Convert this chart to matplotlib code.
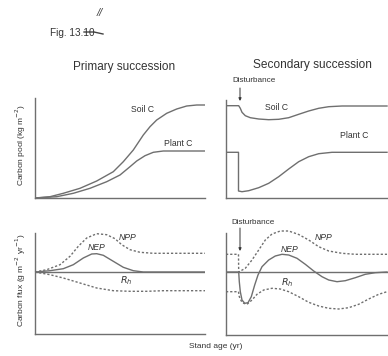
import matplotlib
matplotlib.use("Agg")
import matplotlib.pyplot as plt

plt.rcParams['font.family'] = ['Liberation Sans', 'DejaVu Sans']

# ---------------- data (arbitrary units) ----------------
# Primary succession: carbon pools
prim_soil_x = [0, 15, 28.3, 45, 61.7, 78.3, 88.3, 98.3, 108.3, 115, 121.7, 131.7,
               141.7, 151.7, 161.7, 170]
prim_soil_y = [0, 1.3, 4.7, 9.7, 17, 26.3, 36.3, 48, 63, 71.3, 78, 84.7, 89, 92,
               93, 93]
prim_plant_x = [0, 21.7, 38.3, 55, 71.7, 85, 95, 101.7, 110, 118.3, 128.3, 170]
prim_plant_y = [0, 1.3, 4.7, 9.7, 16.3, 23, 31.3, 37, 42.3, 45.7, 47, 47]

# Secondary succession: carbon pools
sec_soil_x = [0, 12.7, 14.3, 16, 19.3, 24.3, 32.7, 42.7, 52.7, 62.7, 72.7, 82.7,
              92.7, 102.7, 116, 161]
sec_soil_y = [92.3, 92.3, 89.7, 85.7, 82.3, 80.3, 79, 78.3, 78.7, 80.3, 83.7, 87,
              89.7, 91.3, 92, 92]
sec_plant_x = [0, 12.5, 12.5, 16, 22.7, 32.7, 42.7, 52.7, 62.7, 72.7, 82.7, 92.7,
               106, 161]
sec_plant_y = [45.7, 45.7, 7, 6.3, 7.3, 10.3, 14.7, 21.3, 29, 36.3, 41.3, 44.3,
               45.7, 45.7]

# Primary succession: carbon fluxes
prim_npp_x = [0, 11.7, 25, 35, 43.3, 51.7, 61.7, 71.7, 80, 86.7, 95, 105, 118.3, 170]
prim_npp_y = [0, 2.3, 7.3, 15.7, 25.7, 34, 38.3, 37.3, 33.3, 27.3, 22.3, 19.7,
              18.7, 18.7]
prim_nep_x = [0, 15, 28.3, 38.3, 48.3, 56.7, 61.7, 68.3, 78.3, 88.3, 98.3, 108.3, 170]
prim_nep_y = [0, 1.3, 3.3, 7.3, 14, 18, 18.3, 16.7, 10.7, 4.7, 1.3, 0, 0]
prim_rh_x = [0, 15, 28.3, 45, 61.7, 78.3, 95, 111.7, 128.3, 170]
prim_rh_y = [0, -2.7, -6, -11, -16, -18.7, -19.3, -19.3, -18.7, -18.7]

# Secondary succession: carbon fluxes
sec_npp_x = [0, 12.5, 12.7, 19.3, 26, 32.7, 39.3, 46, 54.3, 62.7, 72.7, 82.7,
             92.7, 102.7, 116, 129.3, 161]
sec_npp_y = [17.7, 17.7, 0, 3.7, 12, 22, 32, 38, 41, 41, 37.5, 32, 25.3, 21,
             18.7, 17.7, 17.7]
sec_nep_x = [0, 12.7, 13.3, 14.3, 16, 18.7, 22, 25.3, 28.7, 32, 36, 42.7, 49.3,
             56, 62.7, 71, 79.3, 87.7, 96, 102.7, 111, 119.3, 129.3, 139.3, 149.3, 161]
sec_nep_y = [0, 0, -9.7, -19.7, -28, -31.3, -30.7, -24.7, -13, -3, 5.3, 12, 16,
             17.7, 17, 13.7, 7.7, 1, -4.7, -8, -9.7, -8.7, -5.7, -2.3, -0.7, 0]
sec_rh_x = [0, 12.5, 13.3, 15.3, 17.7, 21, 26, 31, 37.7, 46, 54.3, 62.7, 72.7,
            82.7, 92.7, 102.7, 112.7, 122.7, 132.7, 142.7, 152.7, 161]
sec_rh_y = [-19.7, -19.7, -24.7, -29, -31.3, -32.3, -28, -22.3, -18, -16.3, -17,
            -19.7, -24.7, -30.3, -34, -36.3, -37, -35.7, -32.3, -27, -22.3, -19.7]

disturbance_x = 14

# ---------------- figure ----------------
W, H = 388, 356
fig = plt.figure(figsize=(W / 100, H / 100), dpi=100)
fig.patch.set_facecolor('white')

LC = '#6f6f6f'
TC = '#333333'


def px_axes(x0, y0, x1, y1):
    return fig.add_axes([x0 / W, 1 - y1 / H, (x1 - x0) / W, (y1 - y0) / H])


def style(ax, xlim, ylim):
    ax.set_xlim(*xlim)
    ax.set_ylim(*ylim)
    for s in ('top', 'right'):
        ax.spines[s].set_visible(False)
    for s in ('left', 'bottom'):
        ax.spines[s].set_color(LC)
        ax.spines[s].set_linewidth(1.0)
    ax.set_xticks([])
    ax.set_yticks([])
    ax.patch.set_alpha(0)


ax1 = px_axes(35, 98, 205, 198)
ax2 = px_axes(226, 100, 388, 198)
ax3 = px_axes(35, 233, 205, 334)
ax4 = px_axes(226, 233, 388, 335)

style(ax1, (0, 170), (0, 100))
style(ax2, (0, 162), (0, 98))
style(ax3, (0, 170), (-62, 39))
style(ax4, (0, 162), (-63, 39))

lw = 1.0
dot = (0, (1.6, 1.4))

# pools
ax1.plot(prim_soil_x, prim_soil_y, color=LC, lw=lw)
ax1.plot(prim_plant_x, prim_plant_y, color=LC, lw=lw)
ax2.plot(sec_soil_x, sec_soil_y, color=LC, lw=lw)
ax2.plot(sec_plant_x, sec_plant_y, color=LC, lw=lw)

# fluxes
ax3.axhline(0, color=LC, lw=lw)
ax3.plot(prim_npp_x, prim_npp_y, color=LC, lw=lw, ls=dot, clip_on=False)
ax3.plot(prim_nep_x, prim_nep_y, color=LC, lw=lw)
ax3.plot(prim_rh_x, prim_rh_y, color=LC, lw=lw, ls=dot)

ax4.axhline(0, color=LC, lw=lw)
ax4.plot(sec_npp_x, sec_npp_y, color=LC, lw=lw, ls=dot, clip_on=False)
ax4.plot(sec_nep_x, sec_nep_y, color=LC, lw=lw)
ax4.plot(sec_rh_x, sec_rh_y, color=LC, lw=lw, ls=dot)

# labels in panels
lab = dict(color=TC, fontsize=6.2, ha='center', va='center')
ax1.text(107.5, 88, 'Soil C', **lab)
ax1.text(143, 55, 'Plant C', **lab)
ax2.text(50.5, 90, 'Soil C', **lab)
ax2.text(128.5, 63, 'Plant C', **lab)

ilab = dict(color=TC, fontsize=6.2, ha='center', va='center', style='italic')
ax3.text(92.5, 34, 'NPP', **ilab)
ax3.text(62, 24, 'NEP', **ilab)
ax3.text(91, -9, r'$R_h$', color=TC, fontsize=6.8, ha='center', va='center')
ax4.text(98, 34, 'NPP', **ilab)
ax4.text(64, 22, 'NEP', **ilab)
ax4.text(61, -11, r'$R_h$', color=TC, fontsize=6.8, ha='center', va='center')

# disturbance arrows
ax2.annotate('', xy=(disturbance_x, 97), xytext=(disturbance_x, 110),
             xycoords='data', annotation_clip=False,
             arrowprops=dict(arrowstyle='-|>', color=TC, lw=0.7,
                             mutation_scale=4, shrinkA=0, shrinkB=0))
ax2.text(28, 118, 'Disturbance', color=TC, fontsize=5.9, ha='center', va='center')
ax4.annotate('', xy=(disturbance_x, 21), xytext=(disturbance_x, 44),
             xycoords='data', annotation_clip=False,
             arrowprops=dict(arrowstyle='-|>', color=TC, lw=0.7,
                             mutation_scale=4, shrinkA=0, shrinkB=0))
ax4.text(27, 50, 'Disturbance', color=TC, fontsize=5.9, ha='center', va='center')

# titles
fig.text(124 / W, 1 - 67 / H, 'Primary succession', color=TC, fontsize=8.5,
         ha='center', va='center')
fig.text(312 / W, 1 - 65 / H, 'Secondary succession', color=TC, fontsize=8.6,
         ha='center', va='center')

# axis labels
fig.text(21 / W, 1 - 145 / H, r'Carbon pool (kg m$^{-2}$)', color=TC, fontsize=6,
         rotation=90, ha='center', va='center')
fig.text(21 / W, 1 - 280 / H, r'Carbon flux (g m$^{-2}$ yr$^{-1}$)', color=TC,
         fontsize=6, rotation=90, ha='center', va='center')
fig.text(216 / W, 1 - 347 / H, 'Stand age (yr)', color=TC, fontsize=6,
         ha='center', va='center')

# figure number with handwritten correction
fig.text(50 / W, 1 - 33 / H, 'Fig. 13.10', color=TC, fontsize=7.2,
         ha='left', va='center')
fig.add_artist(plt.Line2D([84 / W, 94 / W, 103 / W],
                          [1 - 32 / H, 1 - 32 / H, 1 - 34 / H],
                          color='#444444', lw=1.0))
fig.text(100 / W, 1 - 13 / H, '//', color='#444444', fontsize=8,
         style='italic', ha='center', va='center')

fig.savefig('out.png', dpi=100, facecolor='white')
